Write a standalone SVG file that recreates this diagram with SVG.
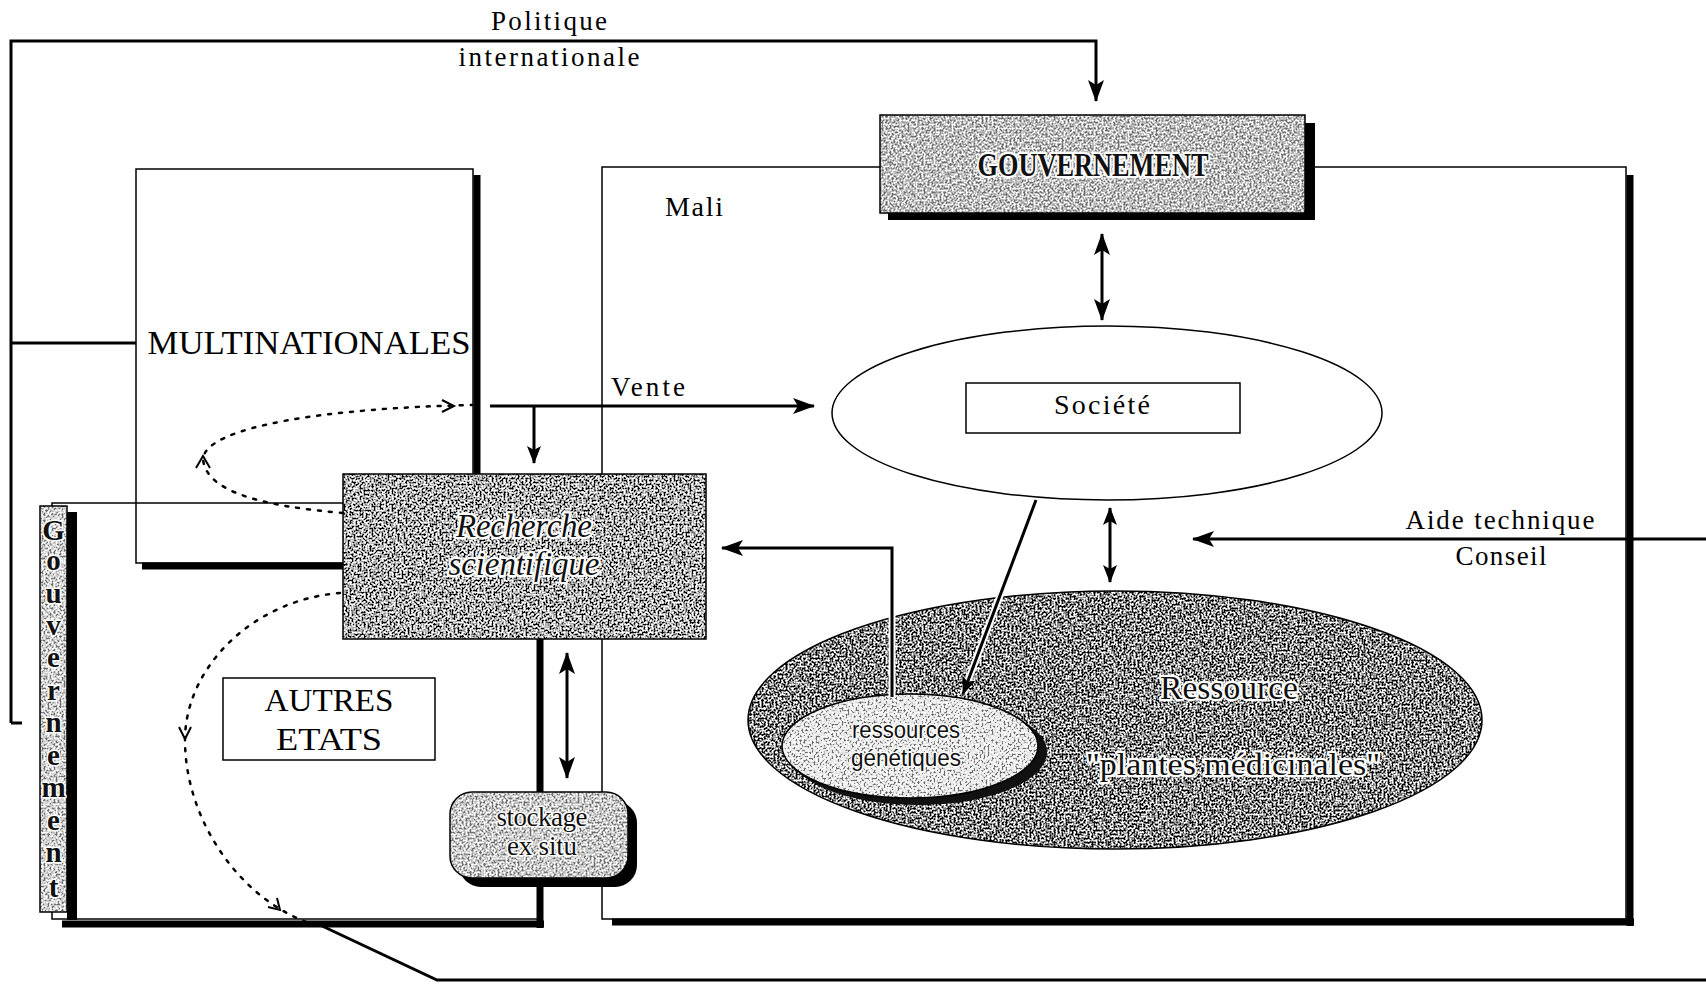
<svg xmlns="http://www.w3.org/2000/svg" width="1706" height="985" viewBox="0 0 1706 985">
<style>
  .ln { fill: none; stroke: #000; stroke-width: 3; }
  .thin { fill: none; stroke: #000; stroke-width: 1.5; }
  .thick { fill: none; stroke: #000; stroke-width: 7; }
  .dot { fill: none; stroke: #000; stroke-width: 2.5; stroke-dasharray: 3 8; stroke-linecap: round; }
  .chev { fill: none; stroke: #000; stroke-width: 2; }
  .t { font-family: "Liberation Serif", "Times New Roman", serif; fill: #000; text-anchor: middle; }
  .ts { font-family: "Liberation Sans", Arial, sans-serif; fill: #111; text-anchor: middle; }
  .halo { fill: #111; stroke: #fff; stroke-width: 4.5; stroke-linejoin: round; paint-order: stroke; }
  .halo2 { fill: #111; stroke: #fff; stroke-width: 3; stroke-linejoin: round; paint-order: stroke; }
  .tex { filter: url(#grain); }
  .texl { filter: url(#grainLight); }
</style>
<defs>
  <filter id="grain" x="0" y="0" width="1" height="1">
    <feTurbulence type="fractalNoise" baseFrequency="0.5" numOctaves="2" seed="4" result="n"/>
    <feColorMatrix in="n" type="matrix" values="0 0 0 0 0  0 0 0 0 0  0 0 0 0 0  -7 0 0 0 3.7" result="blk"/>
    <feColorMatrix in="n" type="matrix" values="0 0 0 0 1  0 0 0 0 1  0 0 0 0 1  7 0 0 0 -3.3" result="wht"/>
    <feComposite in="blk" in2="SourceGraphic" operator="in" result="b2"/>
    <feComposite in="wht" in2="SourceGraphic" operator="in" result="w2"/>
    <feMerge><feMergeNode in="SourceGraphic"/><feMergeNode in="b2"/><feMergeNode in="w2"/></feMerge>
  </filter>
  <filter id="grainLight" x="0" y="0" width="1" height="1">
    <feTurbulence type="fractalNoise" baseFrequency="0.5" numOctaves="2" seed="9" result="n"/>
    <feColorMatrix in="n" type="matrix" values="0 0 0 0 0.15  0 0 0 0 0.15  0 0 0 0 0.15  -8 0 0 0 3.7" result="blk"/>
    <feColorMatrix in="n" type="matrix" values="0 0 0 0 1  0 0 0 0 1  0 0 0 0 1  8 0 0 0 -3.9" result="wht"/>
    <feComposite in="blk" in2="SourceGraphic" operator="in" result="b2"/>
    <feComposite in="wht" in2="SourceGraphic" operator="in" result="w2"/>
    <feMerge><feMergeNode in="SourceGraphic"/><feMergeNode in="b2"/><feMergeNode in="w2"/></feMerge>
  </filter>
  <marker id="ah" viewBox="0 0 22 16" refX="21" refY="8" markerWidth="22" markerHeight="16" orient="auto-start-reverse" markerUnits="userSpaceOnUse">
    <path d="M0 0 L22 8 L0 16 L5 8 Z" fill="#000"/>
  </marker>
  <marker id="ahs" viewBox="0 0 18 14" refX="17" refY="7" markerWidth="18" markerHeight="14" orient="auto-start-reverse" markerUnits="userSpaceOnUse">
    <path d="M0 0 L18 7 L0 14 L4 7 Z" fill="#000"/>
  </marker>
</defs>
<rect width="1706" height="985" fill="#fff"/>

<!-- Mali frame -->
<g id="node-mali">
  <rect x="602" y="167" width="1024" height="752" class="thin" fill="#fff"/>
  <line x1="1630" y1="175" x2="1630" y2="926" class="thick"/>
  <line x1="612" y1="922" x2="1634" y2="922" class="thick"/>
  <text class="t" x="694" y="216" font-size="28" fill="#222" textLength="58" lengthAdjust="spacing">Mali</text>
</g>

<!-- Autres Etats frame -->
<g id="node-autres-frame">
  <rect x="52" y="503" width="488" height="416" class="thin" fill="#fff"/>
  <line x1="540" y1="510" x2="540" y2="928" class="thick" stroke-width="8"/>
  <line x1="62" y1="924" x2="544" y2="924" class="thick"/>
</g>

<!-- Multinationales -->
<g id="node-multinationales">
  <rect x="136" y="169" width="337" height="394" class="thin" fill="#fff"/>
  <line x1="477" y1="175" x2="477" y2="480" class="thick" stroke-width="8"/>
  <line x1="142" y1="566" x2="350" y2="566" class="thick"/>
  <text class="t" x="309" y="354" font-size="34" textLength="323" lengthAdjust="spacingAndGlyphs">MULTINATIONALES</text>
</g>

<!-- Gouvernement (vertical) -->
<g id="node-gouvernement-vertical">
  <rect x="67" y="512" width="10" height="408" fill="#000"/>
  <rect x="40" y="506" width="27" height="406" fill="#c8c8c8" class="texl"/>
  <rect x="40" y="506" width="27" height="406" class="thin"/>
  <g class="t halo2" font-size="29" font-weight="bold">
    <text x="53.5" y="540">G</text>
    <text x="53.5" y="570">o</text>
    <text x="53.5" y="603">u</text>
    <text x="53.5" y="635">v</text>
    <text x="53.5" y="667">e</text>
    <text x="53.5" y="700">r</text>
    <text x="53.5" y="732">n</text>
    <text x="53.5" y="765">e</text>
    <text x="53.5" y="797">m</text>
    <text x="53.5" y="830">e</text>
    <text x="53.5" y="862">n</text>
    <text x="53.5" y="897">t</text>
  </g>
</g>

<!-- Gouvernement -->
<g id="node-gouvernement">
  <rect x="888" y="123" width="427" height="97" fill="#000"/>
  <rect x="880" y="115" width="425" height="98" fill="#b0b0b0" class="texl"/>
  <rect x="880" y="115" width="425" height="98" class="thin"/>
  <text class="t halo" x="1093" y="176" font-size="33" font-weight="bold" textLength="231" lengthAdjust="spacingAndGlyphs">GOUVERNEMENT</text>
</g>

<!-- Societe -->
<g id="node-societe">
  <ellipse cx="1107" cy="413" rx="275" ry="87" class="thin" fill="#fff"/>
  <rect x="966" y="383" width="274" height="50" class="thin" fill="#fff"/>
  <text class="t" x="1102" y="414" font-size="28" textLength="96" lengthAdjust="spacing">Société</text>
</g>

<!-- Ressource -->
<g id="node-ressource">
  <ellipse cx="1115" cy="720" rx="367" ry="129" fill="#555" class="tex"/>
  <ellipse cx="1115" cy="720" rx="367" ry="129" class="thin"/>
  <text class="t halo" x="1229" y="699" font-size="34" textLength="138" lengthAdjust="spacingAndGlyphs">Ressource</text>
  <text class="t halo" x="1233" y="775" font-size="32" textLength="294" lengthAdjust="spacingAndGlyphs">"plantes médicinales"</text>
</g>

<!-- Ressources genetiques -->
<g id="node-ressources-genetiques">
  <ellipse cx="918" cy="752" rx="129" ry="53" fill="#111"/>
  <ellipse cx="910" cy="746" rx="128" ry="52" fill="#e4e4e4" class="texl"/>
  <ellipse cx="910" cy="746" rx="128" ry="52" class="thin"/>
  <text class="ts halo2" x="906" y="738" font-size="24" textLength="108" lengthAdjust="spacingAndGlyphs">ressources</text>
  <text class="ts halo2" x="906" y="766" font-size="24" textLength="110" lengthAdjust="spacingAndGlyphs">génétiques</text>
</g>

<!-- Recherche scientifique -->
<g id="node-recherche">
  <rect x="343" y="474" width="363" height="165" fill="#a2a2a2" class="tex"/>
  <rect x="343" y="474" width="363" height="165" class="thin"/>
  <text class="t halo" x="524" y="537" font-size="33" font-style="italic" textLength="136" lengthAdjust="spacing">Recherche</text>
  <text class="t halo" x="524" y="575" font-size="33" font-style="italic" textLength="151" lengthAdjust="spacing">scientifique</text>
</g>

<!-- Autres Etats -->
<g id="node-autres-etats">
  <rect x="223" y="678" width="212" height="82" class="thin" fill="#fff"/>
  <text class="t" x="329" y="711" font-size="32" textLength="129" lengthAdjust="spacingAndGlyphs">AUTRES</text>
  <text class="t" x="329" y="750" font-size="32" textLength="106" lengthAdjust="spacingAndGlyphs">ETATS</text>
</g>

<!-- Stockage ex situ -->
<g id="node-stockage">
  <rect x="459" y="801" width="178" height="86" rx="22" fill="#000"/>
  <rect x="450" y="792" width="178" height="86" rx="22" fill="#c0c0c0" class="texl"/>
  <rect x="450" y="792" width="178" height="86" rx="22" class="thin"/>
  <text class="t halo2" x="542" y="826" font-size="27" textLength="91" lengthAdjust="spacing">stockage</text>
  <text class="t halo2" x="542" y="855" font-size="27" textLength="70" lengthAdjust="spacing">ex situ</text>
</g>

<!-- Connectors -->
<g id="connectors">
  <path class="ln" d="M11 723 H22 M11 723 V41 H1096 V101" marker-end="url(#ah)"/>
  <line class="ln" x1="11" y1="343" x2="136" y2="343"/>
  <line class="ln" x1="490" y1="406" x2="814" y2="406" marker-end="url(#ah)"/>
  <line class="ln" x1="534" y1="406" x2="534" y2="463" marker-end="url(#ahs)"/>
  <line class="ln" x1="1102" y1="234" x2="1102" y2="320" stroke-width="3.5" marker-start="url(#ah)" marker-end="url(#ah)"/>
  <line class="ln" x1="1110" y1="508" x2="1110" y2="582" stroke-width="3" marker-start="url(#ahs)" marker-end="url(#ahs)"/>
  <line class="ln" x1="567" y1="653" x2="567" y2="778" stroke-width="3" marker-start="url(#ah)" marker-end="url(#ah)"/>
  <line x1="1036" y1="500" x2="963" y2="694" stroke="#fff" stroke-width="7"/>
  <line class="ln" x1="1036" y1="500" x2="963" y2="694" stroke-width="2.5" marker-end="url(#ahs)"/>
  <path d="M892 697 V548 H722" fill="none" stroke="#fff" stroke-width="7"/>
  <path class="ln" d="M892 697 V548 H722" marker-end="url(#ah)"/>
  <line class="ln" x1="1706" y1="539" x2="1193" y2="539" marker-end="url(#ah)"/>
  <path class="ln" d="M320 925 L437 980 H1706"/>
  <path class="dot" d="M343 513 C262 506 206 492 203 459 C206 426 330 408 472 405"/>
  <path class="chev" d="M196 468 L203 456 L210 468"/>
  <path class="chev" d="M442 400 L454 406 L442 412"/>
  <path class="dot" d="M340 593 C252 600 185 668 185 740 C185 820 240 900 312 924"/>
  <path class="chev" d="M179 727 L185 739 L191 727"/>
  <path class="chev" d="M268 907 L280 910 L277 898"/>
</g>

<!-- Free labels -->
<g id="labels">
  <text class="t" x="549" y="30" font-size="27" textLength="116" lengthAdjust="spacing">Politique</text>
  <text class="t" x="549" y="66" font-size="27" textLength="181" lengthAdjust="spacing">internationale</text>
  <text class="t" x="648" y="396" font-size="27" textLength="74" lengthAdjust="spacing">Vente</text>
  <text class="t" x="1500" y="529" font-size="27" textLength="189" lengthAdjust="spacing">Aide technique</text>
  <text class="t" x="1501" y="565" font-size="27" textLength="91" lengthAdjust="spacing">Conseil</text>
</g>
</svg>
